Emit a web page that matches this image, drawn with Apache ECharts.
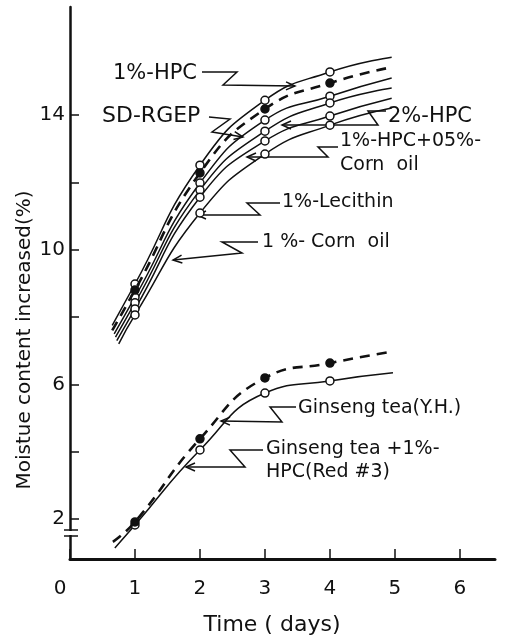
<!DOCTYPE html>
<html><head><meta charset="utf-8">
<script src="https://cdn.jsdelivr.net/npm/echarts@6/dist/echarts.min.js"></script>
<style>html,body{margin:0;padding:0;background:#fff}#c{width:513px;height:639px}</style>
</head><body><div id="c"></div>
<script>
// ---------- data ----------
const days = [1, 2, 3, 4];
const xTickValues = [0, 1, 2, 3, 4, 5, 6];
const yTickValues = [2, 4, 6, 8, 10, 12, 14];
const yLabelValues = [2, 6, 10, 14];

const hpc1 = [8.98, 12.51, 14.44, 15.28];
const sdRgep = [8.80, 12.28, 14.18, 14.95];
const hpc2 = [8.59, 11.98, 13.85, 14.56];
const hpcCorn = [8.42, 11.77, 13.52, 14.36];
const lecithin = [8.24, 11.56, 13.23, 13.97];
const cornOil = [8.06, 11.09, 12.84, 13.70];
const ginsengYH = [1.91, 4.38, 6.19, 6.63];
const ginsengHpc = [1.82, 4.05, 5.74, 6.10];

// where each drawn curve starts and ends: [day, value]
const hpc1Ends = [[0.65, 7.75], [4.95, 15.72]];
const sdRgepEnds = [[0.65, 7.60], [4.95, 15.42]];
const hpc2Ends = [[0.68, 7.50], [4.95, 15.10]];
const hpcCornEnds = [[0.70, 7.40], [4.95, 14.80]];
const lecithinEnds = [[0.72, 7.30], [4.95, 14.50]];
const cornOilEnds = [[0.75, 7.20], [4.95, 14.21]];
const ginsengYHEnds = [[0.66, 1.32], [4.92, 6.96]];
const ginsengHpcEnds = [[0.69, 1.14], [4.97, 6.34]];

const labelTexts = ['1%-HPC', 'SD-RGEP', '2%-HPC', '1%-HPC+05%-', 'Corn  oil', '1%-Lecithin',
  '1 %- Corn  oil', 'Ginseng tea(Y.H.)', 'Ginseng tea +1%-', 'HPC(Red #3)'];

// ---------- chart ----------
const INK = '#111';
const FONT = 'DejaVu Sans';

function curve(name, vals, ends, dashed, filled) {
  const data = [{ value: ends[0], symbol: 'none' }]
    .concat(days.map((d, i) => [d, vals[i]]))
    .concat([{ value: ends[1], symbol: 'none' }]);
  return {
    name, type: 'line', data, smooth: 0.5,
    symbol: 'circle', symbolSize: 8, showAllSymbol: true,
    lineStyle: { color: INK, width: dashed ? 2.6 : 1.5, type: dashed ? [10, 7] : 'solid' },
    itemStyle: { color: filled ? INK : '#fff', borderColor: INK, borderWidth: 1.5 },
    emphasis: { disabled: true }, animation: false, z: filled ? 3 : 2
  };
}

const chart = echarts.init(document.getElementById('c'), null, { renderer: 'canvas' });
chart.setOption({
  backgroundColor: '#fff',
  animation: false,
  grid: { left: 70, top: 7, right: 18, bottom: 80 },
  xAxis: {
    type: 'value', min: 0, max: 6.54, interval: 1,
    axisLine: { show: true, lineStyle: { color: INK, width: 3 } },
    axisTick: { show: true, inside: true, length: 10, lineStyle: { color: INK, width: 1.5 } },
    axisLabel: {
      show: true, margin: 20, color: INK, fontSize: 20, fontFamily: FONT,
      showMaxLabel: false,
      formatter: v => (xTickValues.indexOf(v) < 0 ? '' : (v === 0 ? '{z|0}' : String(v))),
      rich: { z: { padding: [0, 20, 0, 0], fontSize: 20, fontFamily: FONT, color: INK } }
    },
    splitLine: { show: false }
  },
  yAxis: {
    type: 'value', min: 0.81, max: 17.21,
    axisLine: { show: true, lineStyle: { color: INK, width: 2.5 } },
    axisTick: { show: true, inside: true, length: 9, customValues: yTickValues, lineStyle: { color: INK, width: 1.5 } },
    axisLabel: { show: true, margin: 5, color: INK, fontSize: 20, fontFamily: FONT, customValues: yLabelValues },
    splitLine: { show: false }
  },
  series: [
    curve('1%-HPC', hpc1, hpc1Ends, false, false),
    curve('SD-RGEP', sdRgep, sdRgepEnds, true, true),
    curve('2%-HPC', hpc2, hpc2Ends, false, false),
    curve('1%-HPC+0.5%-Corn oil', hpcCorn, hpcCornEnds, false, false),
    curve('1%-Lecithin', lecithin, lecithinEnds, false, false),
    curve('1%-Corn oil', cornOil, cornOilEnds, false, false),
    curve('Ginseng tea(Y.H.)', ginsengYH, ginsengYHEnds, true, true),
    curve('Ginseng tea +1%-HPC(Red #3)', ginsengHpc, ginsengHpcEnds, false, false)
  ]
});

// ---------- annotations (layout only) ----------
const annLayout = [
  { t: [0], fs: 21, x: 113, y: [74], lead: [[202, 72], [237, 72], [223, 85], [295, 86]] },
  { t: [1], fs: 22, x: 102, y: [116], lead: [[209, 117], [230, 119], [212, 132], [243, 137]] },
  { t: [2], fs: 21, x: 388, y: [117], lead: [[386, 111], [368, 111], [378, 125], [282, 125]] },
  { t: [3, 4], fs: 19, x: 340, y: [141, 165], lead: [[338, 147], [318, 147], [328, 157], [247, 157]] },
  { t: [5], fs: 19, x: 282, y: [202], lead: [[280, 203], [247, 203], [260, 215], [197, 215]] },
  { t: [6], fs: 19, x: 262, y: [242], lead: [[258, 242], [222, 242], [242, 253], [173, 260]] },
  { t: [7], fs: 19, x: 298, y: [408], lead: [[296, 407], [270, 407], [282, 422], [221, 421]] },
  { t: [8, 9], fs: 19, x: 266, y: [449, 472], lead: [[263, 450], [230, 450], [245, 467], [186, 467]] }
];
const g = [];
annLayout.forEach(a => {
  a.t.forEach((ti, k) => g.push({
    type: 'text', x: a.x, y: a.y[k], silent: true,
    style: { text: labelTexts[ti], fill: INK, font: a.fs + 'px "' + FONT + '"', align: 'left', verticalAlign: 'middle' }
  }));
  g.push({ type: 'polyline', silent: true, shape: { points: a.lead }, style: { stroke: INK, lineWidth: 1.5, fill: null } });
  const p = a.lead[a.lead.length - 2], q = a.lead[a.lead.length - 1];
  const dx = q[0] - p[0], dy = q[1] - p[1], L = Math.hypot(dx, dy), ux = dx / L, uy = dy / L;
  g.push({ type: 'polyline', silent: true,
    shape: { points: [[q[0] - ux * 9 - uy * 4, q[1] - uy * 9 + ux * 4], q, [q[0] - ux * 9 + uy * 4, q[1] - uy * 9 - ux * 4]] },
    style: { stroke: INK, lineWidth: 1.5, fill: null } });
});
// axis titles
g.push({ type: 'text', x: 25, y: 340, rotation: Math.PI / 2, silent: true,
  style: { text: 'Moistue content increased(%)', fill: INK, font: '20px "' + FONT + '"', align: 'center', verticalAlign: 'middle' } });
g.push({ type: 'text', x: 272, y: 625, silent: true,
  style: { text: 'Time ( days)', fill: INK, font: '22px "' + FONT + '"', align: 'center', verticalAlign: 'middle' } });
// axis break
g.push({ type: 'rect', silent: true, shape: { x: 66, y: 531, width: 10, height: 4 }, style: { fill: '#fff' }, z: 10 });
g.push({ type: 'line', silent: true, shape: { x1: 64, y1: 530, x2: 78, y2: 530 }, style: { stroke: INK, lineWidth: 1.5 }, z: 11 });
g.push({ type: 'line', silent: true, shape: { x1: 64, y1: 536, x2: 78, y2: 536 }, style: { stroke: INK, lineWidth: 1.5 }, z: 11 });
chart.setOption({ graphic: g });
</script>
</body></html>
